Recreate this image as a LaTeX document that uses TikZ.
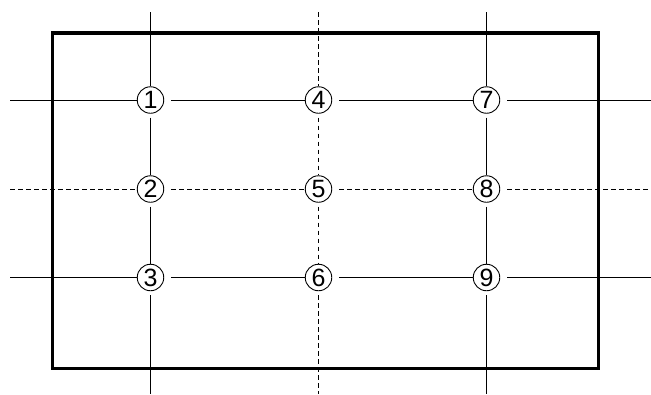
\documentclass[tikz,border=0pt]{standalone}
\usepackage{fontspec}
\setsansfont{Liberation Sans}
\usetikzlibrary{positioning}
\tikzset{
  num/.style={draw, circle, line width=0.9pt, minimum size=26.5pt, inner sep=0pt,
    font=\sffamily\fontsize{25}{25}\selectfont},
  grid/.style={line width=1pt},
  dgrid/.style={line width=1pt, dash pattern=on 4.5pt off 3.5pt},
  gapr/.style={shorten <=7pt},
  gapd/.style={shorten <=4pt},
}

\begin{document}
\begin{tikzpicture}[x=1pt, y=-1pt]
\useasboundingbox (0,0) rectangle (651,394);
% frame
\draw[line width=3.5pt] (52.5,33) rectangle (598.5,368.5);
% circled numbers
\node[num] (c1) at (150.5,100) {1};
\node[num] (c2) at (150.5,189) {2};
\node[num] (c3) at (150.5,277.5) {3};
\node[num] (c4) at (318.5,100) {4};
\node[num] (c5) at (318.5,189) {5};
\node[num] (c6) at (318.5,277.5) {6};
\node[num] (c7) at (486.5,100) {7};
\node[num] (c8) at (486.5,189) {8};
\node[num] (c9) at (486.5,277.5) {9};
% line ends
\coordinate (t1) at (150.5,12);
\coordinate (t2) at (318.5,12);
\coordinate (t3) at (486.5,12);
\coordinate (b1) at (150.5,394);
\coordinate (b2) at (318.5,394);
\coordinate (b3) at (486.5,394);
\coordinate (l1) at (10,100);
\coordinate (l2) at (10,189);
\coordinate (l3) at (10,277.5);
\coordinate (r1) at (651,100);
\coordinate (r2) at (651,189);
\coordinate (r3) at (651,277.5);
% vertical lines
\draw[grid] (t1) -- (c1);
\draw[grid, gapd] (c1) -- (c2);
\draw[grid, gapd] (c2) -- (c3);
\draw[grid, gapd] (c3) -- (b1);
\draw[dgrid] (t2) -- (c4);
\draw[dgrid, gapd] (c4) -- (c5);
\draw[dgrid, gapd] (c5) -- (c6);
\draw[dgrid, gapd] (c6) -- (b2);
\draw[grid] (t3) -- (c7);
\draw[grid, gapd] (c7) -- (c8);
\draw[grid, gapd] (c8) -- (c9);
\draw[grid, gapd] (c9) -- (b3);
% horizontal lines
\draw[grid] (l1) -- (c1);
\draw[grid, gapr] (c1) -- (c4);
\draw[grid, gapr] (c4) -- (c7);
\draw[grid, gapr] (c7) -- (r1);
\draw[dgrid] (l2) -- (c2);
\draw[dgrid, gapr] (c2) -- (c5);
\draw[dgrid, gapr] (c5) -- (c8);
\draw[dgrid, gapr] (c8) -- (r2);
\draw[grid] (l3) -- (c3);
\draw[grid, gapr] (c3) -- (c6);
\draw[grid, gapr] (c6) -- (c9);
\draw[grid, gapr] (c9) -- (r3);
\end{tikzpicture}
\end{document}
